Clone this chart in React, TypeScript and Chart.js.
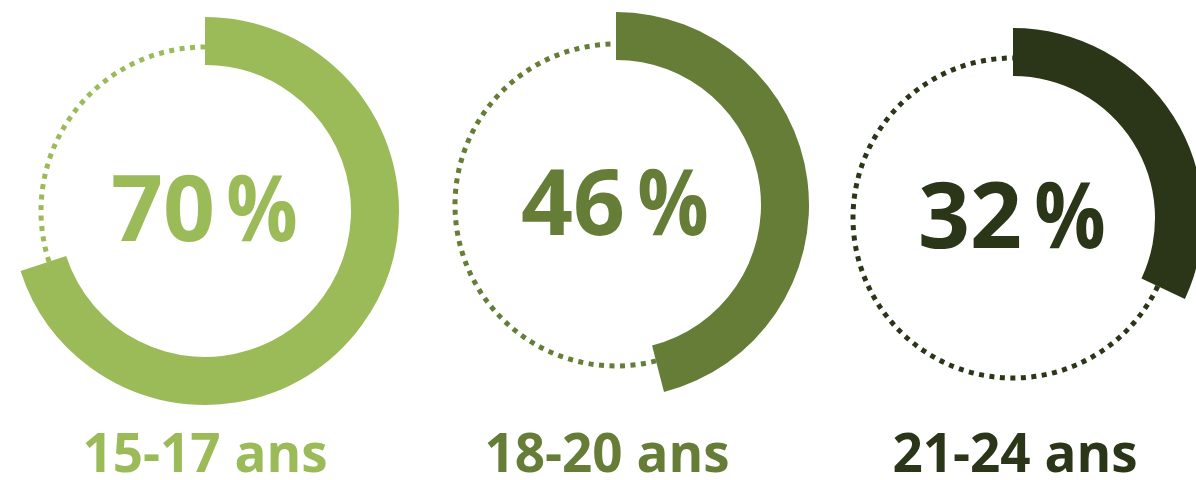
import React, { useEffect, useRef } from "react";
import { Chart, registerables } from "chart.js";

Chart.register(...registerables);

// ---- data ----
const categories = ["15-17 ans", "18-20 ans", "21-24 ans"];
const shares = [70, 46, 32];
const colors = ["#9BBB59", "#657D36", "#2B3618"];

// ---- layout (pixels) ----
const centerX = [205, 616, 1013];
const centerY = [211, 205, 218];
const outerR = [194, 193, 190];
const innerR = [146, 145, 142];
const dotOffset = [18, 16, 18];
const labelX = [205, 607, 1015];

const FONT = "'Open Sans', 'DejaVu Sans', sans-serif";

const ringPlugin = {
  id: "ringDecor",
  afterDatasetsDraw(chart: any, _args: any, opts: any) {
    const meta = chart.getDatasetMeta(0);
    const rest = meta.data[1];
    const { x, y, startAngle, endAngle, innerRadius } = rest.getProps(
      ["x", "y", "startAngle", "endAngle", "innerRadius"],
      true
    );
    const ctx: CanvasRenderingContext2D = chart.ctx;
    ctx.save();
    // dotted remainder
    ctx.strokeStyle = opts.color;
    ctx.lineWidth = 5;
    ctx.lineCap = "butt";
    ctx.setLineDash([5, 5.5]);
    ctx.beginPath();
    ctx.arc(x, y, innerRadius + opts.dotOffset, startAngle, endAngle);
    ctx.stroke();
    ctx.setLineDash([]);
    // centre text
    ctx.fillStyle = opts.color;
    ctx.font = `bold 91px ${FONT}`;
    ctx.textBaseline = "alphabetic";
    ctx.textAlign = "left";
    const digits = String(opts.value);
    const m1 = ctx.measureText(digits);
    const baseY = y + 30;
    ctx.fillText(digits, x + 7 - m1.actualBoundingBoxRight, baseY);
    const m2 = ctx.measureText("%");
    const inkW = m2.actualBoundingBoxLeft + m2.actualBoundingBoxRight;
    const sx = 68 / inkW;
    ctx.save();
    ctx.translate(x + 23, baseY);
    ctx.scale(sx, 1);
    ctx.fillText("%", m2.actualBoundingBoxLeft, 0);
    ctx.restore();
    ctx.restore();
  },
};

function Donut({ index }: { index: number }) {
  const ref = useRef<HTMLCanvasElement>(null);
  useEffect(() => {
    const value = shares[index];
    const color = colors[index];
    const chart = new Chart(ref.current as HTMLCanvasElement, {
      type: "doughnut",
      data: {
        labels: [categories[index], "reste"],
        datasets: [
          {
            data: [value, 100 - value],
            backgroundColor: [color, "rgba(0,0,0,0)"],
            borderWidth: 0,
            hoverBorderWidth: 0,
            hoverOffset: 0,
            offset: 0,
            spacing: 0,
          } as any,
        ],
      },
      options: {
        animation: false,
        responsive: true,
        maintainAspectRatio: false,
        events: [],
        cutout: `${(innerR[index] / outerR[index]) * 100}%`,
        layout: { padding: 0 },
        plugins: {
          legend: { display: false },
          tooltip: { enabled: false },
          ringDecor: { color, value, dotOffset: dotOffset[index] },
        } as any,
      },
      plugins: [ringPlugin as any],
    });
    return () => chart.destroy();
  }, [index]);

  const R = outerR[index];
  return (
    <div
      style={{
        position: "absolute",
        left: centerX[index] - R,
        top: centerY[index] - R,
        width: 2 * R,
        height: 2 * R,
      }}
    >
      <canvas ref={ref} />
    </div>
  );
}

export default function App() {
  return (
    <div
      style={{
        position: "absolute",
        left: 0,
        top: 0,
        width: 1196,
        height: 480,
        overflow: "hidden",
        background: "#ffffff",
      }}
    >
      {categories.map((_, i) => (
        <Donut key={i} index={i} />
      ))}
      {categories.map((c, i) => (
        <div
          key={"l" + i}
          style={{
            position: "absolute",
            left: labelX[i] - 200,
            width: 400,
            top: 425,
            textAlign: "center",
            fontFamily: FONT,
            fontWeight: 700,
            fontSize: 53,
            lineHeight: "53px",
            whiteSpace: "nowrap",
            color: colors[i],
          }}
        >
          {c}
        </div>
      ))}
    </div>
  );
}
